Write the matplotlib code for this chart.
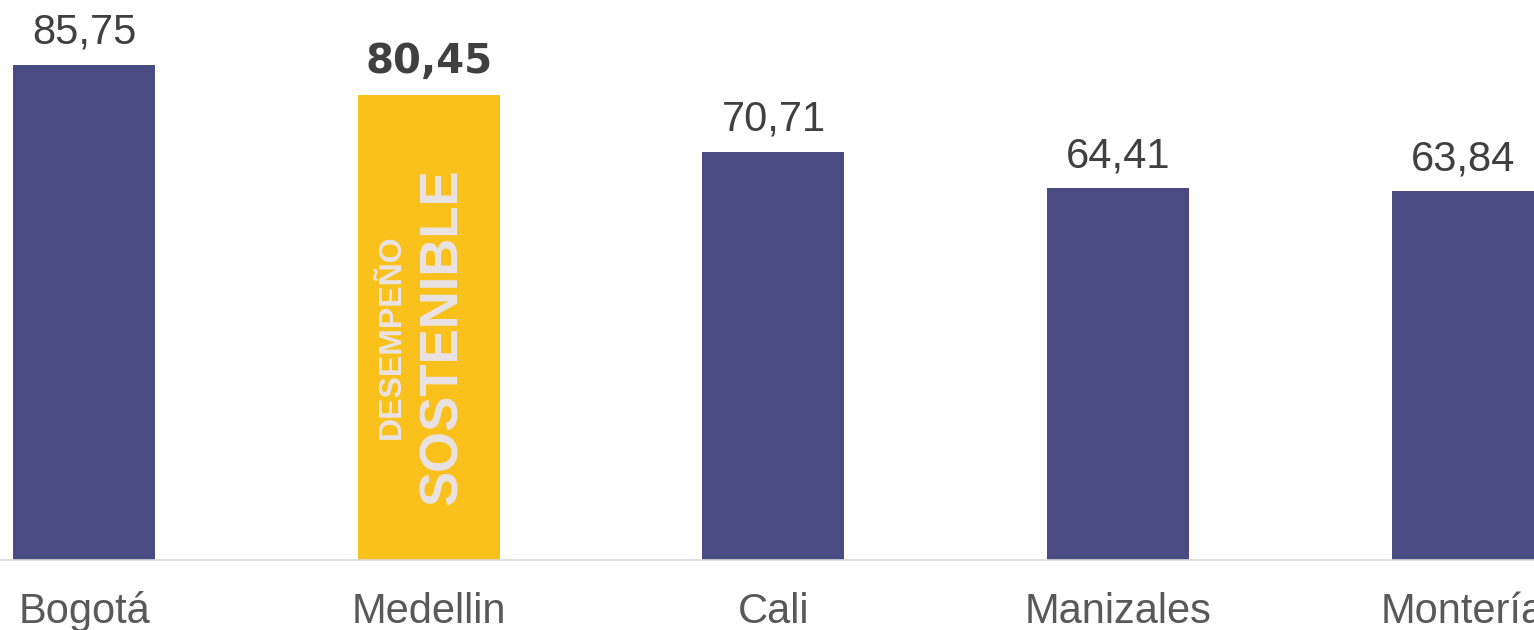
import matplotlib.pyplot as plt
import numpy as np

# datos
ciudades = ['Bogotá', 'Medellin', 'Cali', 'Manizales', 'Montería']
valores = [85.75, 80.45, 70.71, 64.41, 63.84]
destacada = 'Medellin'

azul = '#4B4B83'
amarillo = '#FAC11C'

fig = plt.figure(figsize=(15.34, 6.3), dpi=100)
ax = fig.add_axes([0, 70 / 630, 1, 560 / 630])

x = np.arange(len(ciudades))
colores = [amarillo if c == destacada else azul for c in ciudades]
ax.bar(x, valores, width=0.412, color=colores, zorder=2)

ax.set_xlim(-0.2437, 4.2063)
ax.set_ylim(0, 96.97)

# etiquetas de valor
for i, (c, v) in enumerate(zip(ciudades, valores)):
    txt = f'{v:.2f}'.replace('.', ',')
    if c == destacada:
        ax.annotate(txt, (i, v), xytext=(0, 16), textcoords='offset points',
                    ha='center', va='baseline', fontsize=29, fontweight='bold',
                    family='DejaVu Sans', color='#404040')
        # texto dentro de la barra
        ax.text(i - 0.084, v * 0.48, 'DESEMPEÑO', rotation=90, rotation_mode='anchor',
                ha='center', va='baseline', fontsize=23, fontweight='bold',
                family='Liberation Sans', color='#E9E3E4', zorder=3)
        ax.text(i + 0.081, v * 0.48, 'SOSTENIBLE', rotation=90, rotation_mode='anchor',
                ha='center', va='baseline', fontsize=38, fontweight='bold',
                family='Liberation Sans', color='#E9E3E4', zorder=3)
    else:
        ax.annotate(txt, (i, v), xytext=(0, 15), textcoords='offset points',
                    ha='center', va='baseline', fontsize=30,
                    family='Liberation Sans', color='#404040')

ax.set_xticks(x, ciudades)
ax.tick_params(axis='x', length=0, pad=45.4)
for lbl in ax.get_xticklabels():
    lbl.set_va('baseline')
    lbl.set_fontsize(30)
    lbl.set_family('Liberation Sans')
    lbl.set_color('#595959')
ax.set_yticks([])

for s in ['top', 'left', 'right']:
    ax.spines[s].set_visible(False)
ax.spines['bottom'].set_color('#D9D9D9')
ax.spines['bottom'].set_linewidth(1.2)
ax.spines['bottom'].set_zorder(3)

fig.savefig('out.png', dpi=100)
